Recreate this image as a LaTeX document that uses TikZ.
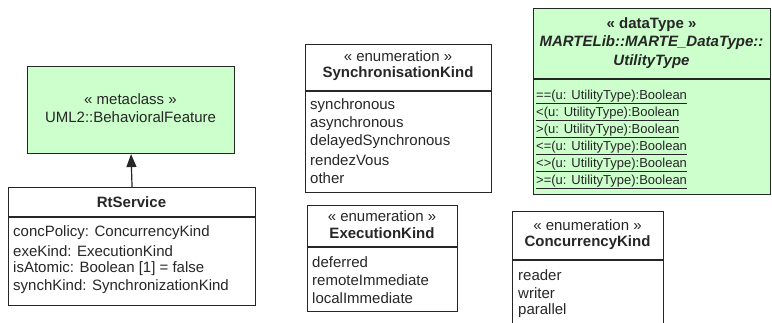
\documentclass[tikz,border=0pt]{standalone}
\usepackage{fontspec}
\setmainfont{Liberation Sans}
\usetikzlibrary{arrows.meta}
\definecolor{umlgreen}{HTML}{CCFFCC}
\definecolor{ink}{HTML}{262626}
\tikzset{
  box/.style={draw=ink, line width=1.1pt, anchor=north west, inner sep=0pt},
  greenbox/.style={box, fill=umlgreen},
  item/.style={anchor=west, inner sep=0pt, text=ink, font=\fontsize{15}{17}\selectfont},
  head/.style={anchor=center, inner sep=0pt, text=ink, font=\fontsize{15}{17}\selectfont},
  headb/.style={head, font=\fontsize{15}{17}\selectfont\bfseries},
  op/.style={anchor=west, inner sep=0pt, text=ink, font=\fontsize{13}{14}\selectfont},
  divider/.style={draw=ink, line width=1.1pt},
}
\begin{document}
\begin{tikzpicture}[x=1pt,y=-1pt]
\useasboundingbox (0,0) rectangle (772,322);
% metaclass
\node[greenbox, minimum width=207pt, minimum height=87pt] (meta) at (27,66) {};
\node[head] (metas) at (130.5,99) {« metaclass »};
\node[head] (metan) at (130.5,117) {UML2::BehavioralFeature};
% RtService
\node[box, minimum width=247pt, minimum height=118pt] (rt) at (8,187) {};
\draw[divider] (8,217) -- (255,217);
\node[headb] (rtn) at (131.5,202) {RtService};
\node[item] (rt1) at (13,233) {concPolicy: ConcurrencyKind};
\node[item] (rt2) at (13,251) {exeKind: ExecutionKind};
\node[item] (rt3) at (13,269) {isAtomic: Boolean [1] = false};
\node[item] (rt4) at (13,287) {synchKind: SynchronizationKind};
\draw[line width=1.2pt, draw=ink, -{Triangle[length=13pt,width=10pt]}] (rt.north) -- (meta.south);
% SynchronisationKind
\node[box, minimum width=186pt, minimum height=148pt] (sk) at (305,44) {};
\draw[divider] (305,91) -- (491,91);
\node[head] (sks) at (398,56) {« enumeration »};
\node[headb] (skn) at (398,74) {SynchronisationKind};
\node[item] (sk1) at (310,106) {synchronous};
\node[item] (sk2) at (310,124) {asynchronous};
\node[item] (sk3) at (310,142) {delayedSynchronous};
\node[item] (sk4) at (310,160) {rendezVous};
\node[item] (sk5) at (310,178) {other};
% ExecutionKind
\node[box, minimum width=150pt, minimum height=106pt] (ek) at (307,205) {};
\draw[divider] (307,247) -- (457,247);
\node[head] (eks) at (382,216) {« enumeration »};
\node[headb] (ekn) at (382,233) {ExecutionKind};
\node[item] (ek1) at (312,262) {deferred};
\node[item] (ek2) at (312,280) {remoteImmediate};
\node[item] (ek3) at (312,298) {localImmediate};
% ConcurrencyKind
\node[box, minimum width=151pt, minimum height=130pt] (ck) at (512,211) {};
\draw[divider] (512,260) -- (663,260);
\node[head] (cks) at (587.5,225) {« enumeration »};
\node[headb] (ckn) at (587.5,243) {ConcurrencyKind};
\node[item] (ck1) at (518,275) {reader};
\node[item] (ck2) at (518,293) {writer};
\node[item] (ck3) at (518,311) {parallel};
% dataType
\node[greenbox, minimum width=237pt, minimum height=186pt] (dt) at (533,8) {};
\draw[divider] (533,79) -- (770,79);
\node[headb] (dts) at (651.5,25) {« dataType »};
\node[head, font=\fontsize{15}{17}\selectfont\bfseries\itshape] (dtn1) at (651.5,43) {MARTELib::MARTE\_DataType::};
\node[head, font=\fontsize{15}{17}\selectfont\bfseries\itshape] (dtn2) at (651.5,62) {UtilityType};
\node[op] (op1) at (536,97) {\underline{==(u: UtilityType):Boolean}};
\node[op] (op2) at (536,114) {\underline{<(u: UtilityType):Boolean}};
\node[op] (op3) at (536,131) {\underline{>(u: UtilityType):Boolean}};
\node[op] (op4) at (536,148) {\underline{<=(u: UtilityType):Boolean}};
\node[op] (op5) at (536,165) {\underline{<>(u: UtilityType):Boolean}};
\node[op] (op6) at (536,182) {\underline{>=(u: UtilityType):Boolean}};
\end{tikzpicture}
\end{document}
